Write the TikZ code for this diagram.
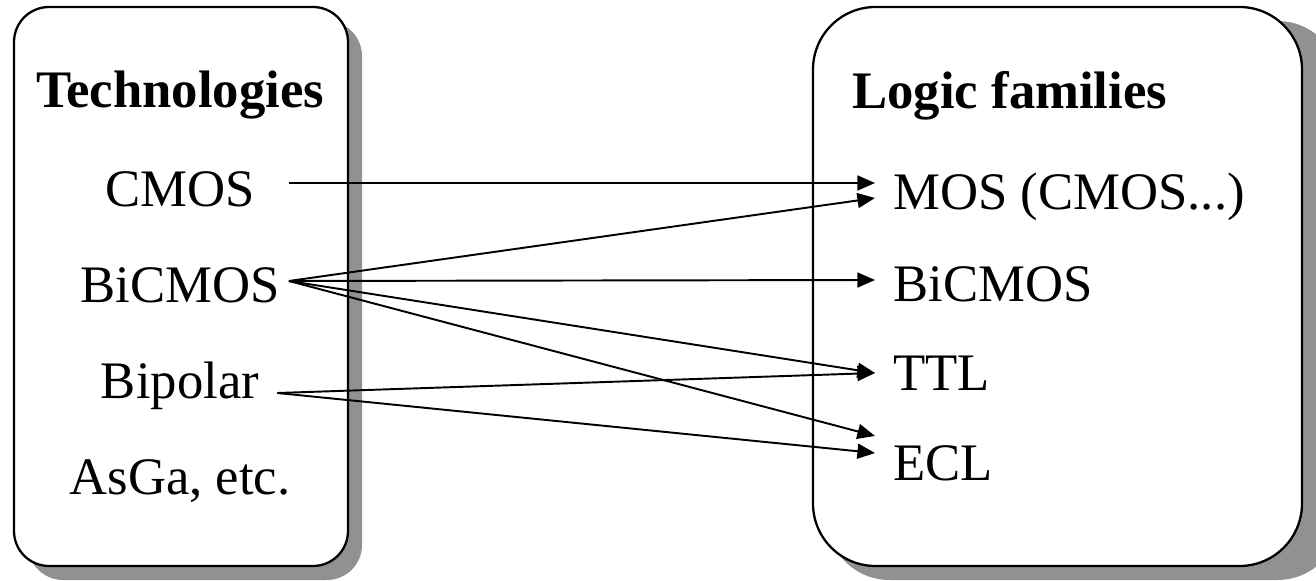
\documentclass[tikz,border=0pt]{standalone}
\usepackage{fontspec}
\setmainfont{Liberation Serif}
\usetikzlibrary{arrows.meta,calc,positioning}
\definecolor{shadowgray}{RGB}{145,145,145}
\tikzset{
	txt/.style={font=\fontsize{30}{36}\selectfont, inner sep=0pt},
	head/.style={inner sep=0pt, font=\fontsize{30}{36}\selectfont\bfseries},
	box/.style={draw=black, line width=1.3pt, fill=white},
	shade/.style={fill=shadowgray},
	link/.style={line width=1.1pt, -{Triangle[length=10pt,width=8.5pt]}}
}

\begin{document}
\begin{tikzpicture}[x=0.02cm,y=-0.02cm]
			\useasboundingbox (0,0) rectangle (1316,581);
			% boxes with drop shadow
			\fill[shade,rounded corners=0.7cm] (28,21) rectangle (362,580);
			\draw[box,rounded corners=0.7cm] (14,7) rectangle (348,566);
			\fill[shade,rounded corners=1.25cm] (827,21) rectangle (1340,580);
			\draw[box,rounded corners=1.25cm] (813,7) rectangle (1302,566);
			% headings
			\node[head,anchor=base] (tech) at (180,108) {Technologies};
			\node[head,anchor=base west] (fam) at (852,109) {Logic families};
			% technologies
			\foreach \name/\txt/\y in {cmos/CMOS/207, bicmos/BiCMOS/302, bipolar/Bipolar/398, asga/{AsGa, etc.}/494} {
				\node[txt,anchor=base] (\name) at (180,\y) {\txt};
			}
			% logic families
			\foreach \name/\txt/\y in {mos/{MOS (CMOS...)}/210, bicmosf/BiCMOS/301, ttl/TTL/390, ecl/ECL/480} {
				\node[txt,anchor=base west] (\name) at (893,\y) {\txt};
			}
			% links
			\draw[link] ($(cmos.base east)+(34,-24)$) -- ($(mos.base west)+(-18,-27)$);
			\draw[link] ($(bicmos.base east)+(9,-21)$) -- ($(mos.base west)+(-18,-12)$);
			\draw[link] ($(bicmos.base east)+(9,-21)$) -- ($(bicmosf.base west)+(-18,-21)$);
			\draw[link] ($(bicmos.base east)+(9,-21)$) -- ($(ttl.base west)+(-18,-17)$);
			\draw[link] ($(bicmos.base east)+(9,-21)$) -- ($(ecl.base west)+(-18,-44)$);
			\draw[link] ($(bipolar.base east)+(18,-5)$) -- ($(ttl.base west)+(-18,-17)$);
			\draw[link] ($(bipolar.base east)+(18,-5)$) -- ($(ecl.base west)+(-18,-27)$);
		\end{tikzpicture}
\end{document}
